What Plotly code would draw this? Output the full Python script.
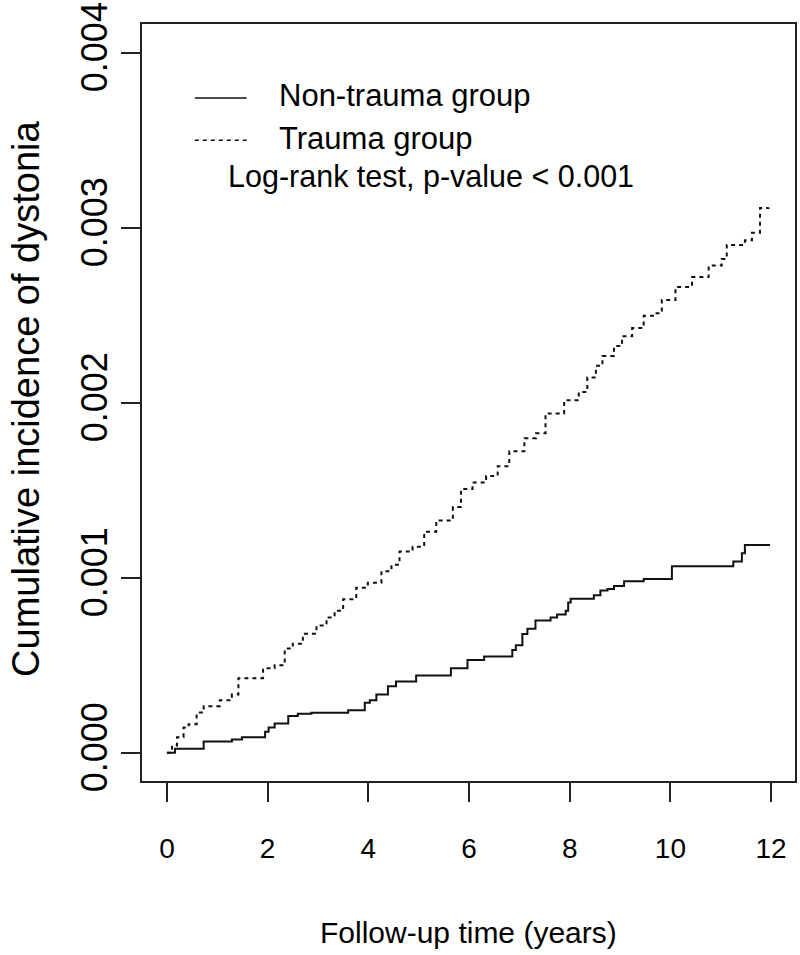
import plotly.graph_objects as go

# ---- data (years, cumulative incidence) ----
non_trauma_t = [0, 0.16, 0.73, 1.29, 1.49, 1.95, 2.02, 2.14, 2.41, 2.60, 2.87, 3.60, 3.93, 4.03, 4.16, 4.39, 4.55,
                4.95, 5.64, 5.97, 6.30, 6.86, 6.93, 7.06, 7.16, 7.32, 7.62, 7.75, 7.92, 7.97, 8.02, 8.48, 8.61,
                8.75, 8.88, 9.08, 9.47, 10.03, 11.25, 11.42, 11.48, 11.98]
non_trauma_v = [0, 0.000023, 0.000064, 0.000075, 0.000088, 0.000120, 0.000144, 0.000167, 0.000210, 0.000223,
                0.000228, 0.000242, 0.000285, 0.000300, 0.000332, 0.000379, 0.000407, 0.000441, 0.000482,
                0.000530, 0.000550, 0.000586, 0.000614, 0.000678, 0.000708, 0.000755, 0.000773, 0.000790,
                0.000811, 0.000858, 0.000880, 0.000900, 0.000927, 0.000935, 0.000952, 0.000980, 0.000993,
                0.001065, 0.001093, 0.001140, 0.001187, 0.001187]

trauma_t = [0, 0.10, 0.20, 0.33, 0.43, 0.59, 0.73, 1.05, 1.29, 1.42, 1.91, 2.14, 2.34, 2.50, 2.70, 2.97, 3.17,
            3.33, 3.50, 3.76, 3.99, 4.26, 4.46, 4.62, 4.88, 5.11, 5.35, 5.68, 5.84, 6.07, 6.34, 6.57, 6.80,
            7.10, 7.33, 7.52, 7.89, 8.18, 8.35, 8.52, 8.65, 8.88, 9.04, 9.24, 9.47, 9.70, 9.83, 10.10, 10.43,
            10.76, 11.02, 11.12, 11.48, 11.62, 11.78, 11.95]
trauma_v = [0, 0.000041, 0.000088, 0.000144, 0.000163, 0.000229, 0.000266, 0.000300, 0.000332, 0.000426,
            0.000482, 0.000500, 0.000595, 0.000623, 0.000680, 0.000727, 0.000773, 0.000811, 0.000877,
            0.000943, 0.000971, 0.001037, 0.001074, 0.001149, 0.001177, 0.001262, 0.001327, 0.001403,
            0.001506, 0.001544, 0.001581, 0.001637, 0.001722, 0.001797, 0.001825, 0.001938, 0.002013,
            0.002060, 0.002144, 0.002210, 0.002266, 0.002323, 0.002379, 0.002426, 0.002496, 0.002510,
            0.002586, 0.002661, 0.002717, 0.002783, 0.002820, 0.002901, 0.002927, 0.002971, 0.003112,
            0.003115]

x_ticks = [0, 2, 4, 6, 8, 10, 12]
y_ticks = [0.000, 0.001, 0.002, 0.003, 0.004]
y_tick_labels = ["0.000", "0.001", "0.002", "0.003", "0.004"]
series_names = ["Non-trauma group", "Trauma group"]
test_text = "Log-rank test, p-value < 0.001"
x_title = "Follow-up time (years)"
y_title = "Cumulative incidence of dystonia"

FONT = "Liberation Sans, Arial, sans-serif"
W, H = 800, 955
ML, MR, MT, MB = 142, 3, 13, 174
PW, PH = W - ML - MR, H - MT - MB


def px(X):
    return (X - ML) / PW


def py(Y):
    return (H - MB - Y) / PH


fig = go.Figure()
fig.add_trace(go.Scatter(x=non_trauma_t, y=non_trauma_v, mode="lines", line_shape="hv",
                         line=dict(color="#111", width=2), name=series_names[0], showlegend=False))
fig.add_trace(go.Scatter(x=trauma_t, y=trauma_v, mode="lines", line_shape="hv",
                         line=dict(color="#111", width=2, dash="4px,4px"), name=series_names[1],
                         showlegend=False))

# legend drawn manually
shapes = [
    dict(type="line", xref="paper", yref="paper", x0=px(195), x1=px(247), y0=py(88), y1=py(88),
         line=dict(color="#111", width=1.5)),
    dict(type="line", xref="paper", yref="paper", x0=px(195), x1=px(247), y0=py(131), y1=py(131),
         line=dict(color="#111", width=1.5, dash="4px,4px")),
]
annotations = [
    dict(text=series_names[0], xref="paper", yref="paper", x=px(277), y=py(86), xanchor="left",
         yanchor="middle", showarrow=False, font=dict(family=FONT, size=31, color="#000")),
    dict(text=series_names[1], xref="paper", yref="paper", x=px(277), y=py(129), xanchor="left",
         yanchor="middle", showarrow=False, font=dict(family=FONT, size=31, color="#000")),
    dict(text=test_text, xref="paper", yref="paper", x=px(226), y=py(168), xanchor="left",
         yanchor="middle", showarrow=False, font=dict(family=FONT, size=30.5, color="#000")),
    dict(text=x_title, xref="paper", yref="paper", x=px(470), y=py(935), xanchor="center",
         yanchor="middle", showarrow=False, font=dict(family=FONT, size=30, color="#000")),
    dict(text=y_title, xref="paper", yref="paper", x=px(25), y=py(393), xanchor="center",
         yanchor="middle", showarrow=False, textangle=-90, borderpad=0,
         font=dict(family=FONT, size=38, color="#000")),
]

fig.update_layout(
    width=W, height=H,
    margin=dict(l=ML, r=MR, t=MT, b=MB),
    paper_bgcolor="white", plot_bgcolor="white",
    showlegend=False,
    shapes=shapes, annotations=annotations,
    font=dict(family=FONT, color="#000"),
)
fig.update_xaxes(range=[-0.495, 12.475], tickvals=x_ticks, ticktext=[str(v) for v in x_ticks],
                 showgrid=False, zeroline=False, showline=True, mirror=True,
                 linecolor="#222", linewidth=2, ticks="outside", ticklen=19, tickwidth=2,
                 tickcolor="#222", ticklabelstandoff=22, ticklabeloverflow="allow",
                 tickfont=dict(family=FONT, size=28, color="#000"))
fig.update_yaxes(range=[-0.0001617, 0.004163], tickvals=y_ticks, ticktext=y_tick_labels,
                 tickangle=-90, showgrid=False, zeroline=False, showline=True, mirror=True,
                 linecolor="#222", linewidth=2, ticks="outside", ticklen=19, tickwidth=2,
                 tickcolor="#222", ticklabeloverflow="allow", ticklabelstandoff=0,
                 tickfont=dict(family=FONT, size=36, color="#000"))

fig.write_html("out.html", config={"displayModeBar": False},
               post_script="document.body.style.margin='0px';")
